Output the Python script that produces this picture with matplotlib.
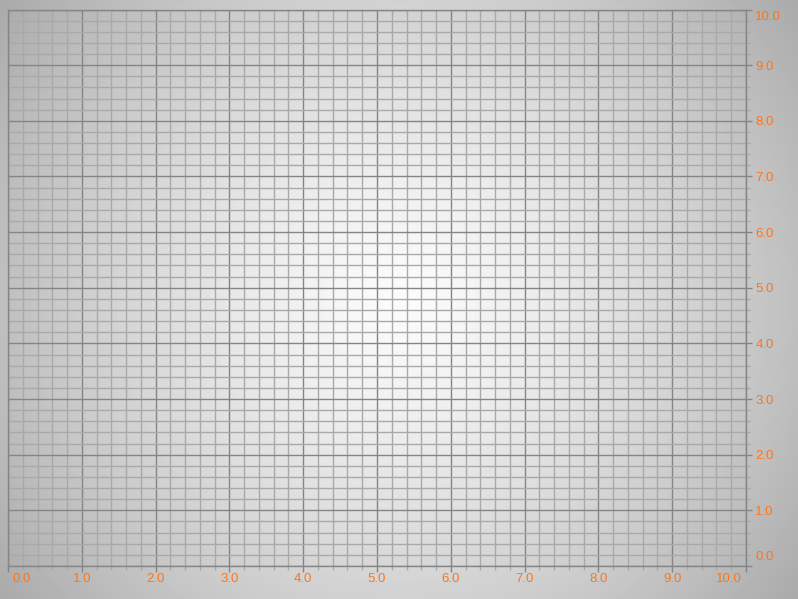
import numpy as np
import matplotlib
matplotlib.use('Agg')
import matplotlib.pyplot as plt
from matplotlib.ticker import FixedLocator, MultipleLocator, FormatStrFormatter
from matplotlib.transforms import ScaledTranslation

# Axis values
x_ticks = [0.0, 1.0, 2.0, 3.0, 4.0, 5.0, 6.0, 7.0, 8.0, 9.0, 10.0]
y_ticks = [0.0, 1.0, 2.0, 3.0, 4.0, 5.0, 6.0, 7.0, 8.0, 9.0, 10.0]
minor_step = 0.2

label_color = '#ff7518'
major_color = '#858585'
minor_color = '#a9a9a9'

W, H = 798, 599
fig = plt.figure(figsize=(W / 100, H / 100), dpi=100)

# radial grey background over the whole figure
bg = fig.add_axes([0, 0, 1, 1], zorder=-10)
yy, xx = np.mgrid[0:H, 0:W]
d = np.hypot(xx - W / 2, yy - H / 2) / np.hypot(W / 2, H / 2)
shade = 0.985 - (0.985 - 0.665) * d ** 1.3
bg.imshow(shade, cmap='gray', vmin=0, vmax=1, aspect='auto', interpolation='bilinear')
bg.axis('off')

left, right, top, bottom = 8, 746, 9.5, 566
ax = fig.add_axes([left / W, 1 - bottom / H, (right - left) / W, (bottom - top) / H])
ax.set_facecolor('none')
ax.set_xlim(x_ticks[0], x_ticks[-1])
ax.set_ylim(y_ticks[0], y_ticks[-1])

ax.xaxis.set_major_locator(FixedLocator(x_ticks))
ax.yaxis.set_major_locator(FixedLocator(y_ticks))
ax.xaxis.set_minor_locator(MultipleLocator(minor_step))
ax.yaxis.set_minor_locator(MultipleLocator(minor_step))
ax.xaxis.set_major_formatter(FormatStrFormatter('%.1f'))
ax.yaxis.set_major_formatter(FormatStrFormatter('%.1f'))

ax.yaxis.tick_right()
ax.tick_params(which='both', direction='out', colors=major_color, labelcolor=label_color,
               labelsize=9.5)
ax.tick_params(which='major', length=4.3, width=1)
ax.tick_params(which='minor', length=3, width=1, colors=minor_color)
ax.tick_params(axis='x', which='major', pad=1)
ax.tick_params(axis='y', which='major', pad=2.5)

ax.grid(which='minor', color=minor_color, linewidth=1)
ax.grid(which='major', color=major_color, linewidth=1)
ax.set_axisbelow(True)
for s in ax.spines.values():
    s.set_color(major_color)
    s.set_linewidth(1)

for t in ax.get_xticklabels() + ax.get_yticklabels():
    t.set_fontfamily(['Liberation Sans', 'DejaVu Sans'])

# push end labels inside the plot edge, as in the original
xt = ax.xaxis.get_major_ticks()
yt = ax.yaxis.get_major_ticks()
xt[0].label1.set_ha('left')
xt[0].label1.set_transform(xt[0].label1.get_transform() + ScaledTranslation(0.045, 0, fig.dpi_scale_trans))
xt[-1].label1.set_ha('right')
xt[-1].label1.set_transform(xt[-1].label1.get_transform() + ScaledTranslation(-0.04, 0, fig.dpi_scale_trans))
yt[0].label2.set_va('bottom')
yt[0].label2.set_transform(yt[0].label2.get_transform() + ScaledTranslation(0, 0.035, fig.dpi_scale_trans))
yt[-1].label2.set_va('top')
yt[-1].label2.set_transform(yt[-1].label2.get_transform() + ScaledTranslation(0, -0.015, fig.dpi_scale_trans))

fig.savefig('out.png', dpi=100)
